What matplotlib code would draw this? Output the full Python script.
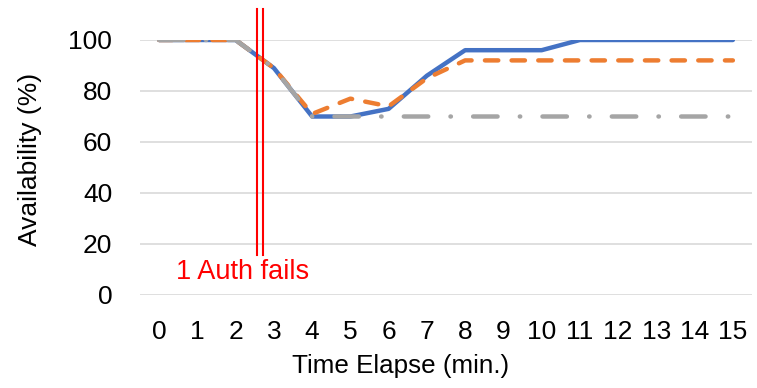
import matplotlib
matplotlib.use("Agg")
import matplotlib.pyplot as plt

minutes = list(range(16))
blue_vals = [100, 100, 100, 89, 70, 70, 73, 86, 96, 96, 96, 100, 100, 100, 100, 100]
orange_vals = [100, 100, 100, 89, 71, 77, 74, 85, 92, 92, 92, 92, 92, 92, 92, 92]
gray_vals = [100, 100, 100, 89, 70, 70, 70, 70, 70, 70, 70, 70, 70, 70, 70, 70]
fail_x = [2.55, 2.71]

plt.rcParams["font.family"] = ["Liberation Sans", "DejaVu Sans"]

fig = plt.figure(figsize=(7.57, 3.88), dpi=100)
ax = fig.add_axes([140 / 757, 1 - 295 / 388, 612 / 757, 255 / 388])

ax.plot(minutes, blue_vals, color="#4472C4", lw=3.2, solid_capstyle="round", zorder=3)
ax.plot(minutes, orange_vals, color="#ED7D31", lw=3.2, linestyle=(0, (3, 3)),
        dash_capstyle="round", zorder=4)
ax.plot(minutes, gray_vals, color="#A5A5A5", lw=3.2, linestyle=(0, (5.5, 5, 0.1, 5)),
        dash_capstyle="round", zorder=5)

for x in fail_x:
    ax.plot([x, x], [15.7, 112], color="#FF0000", lw=1.5, clip_on=False, zorder=6)
ax.text(2.18, 9, "1 Auth fails", color="#FF0000", fontsize=19.5, ha="center", va="center")

ax.set_xlim(-0.5, 15.5)
ax.set_ylim(0, 100)
ax.set_xticks(minutes)
ax.set_yticks(range(0, 101, 20))
ax.tick_params(length=0, labelsize=19)
ax.tick_params(axis="x", pad=18)
ax.tick_params(axis="y", pad=20)
ax.grid(axis="y", color="#D9D9D9", lw=1.2)
ax.set_axisbelow(True)
for s in ax.spines.values():
    s.set_visible(False)

ax.set_xlabel("Time Elapse (min.)", fontsize=18.7)
ax.set_ylabel("Availability (%)", fontsize=19)
ax.xaxis.set_label_coords(0.425, -0.23)
ax.yaxis.set_label_coords(-0.16, 0.53)

fig.savefig("out.png", dpi=100)
